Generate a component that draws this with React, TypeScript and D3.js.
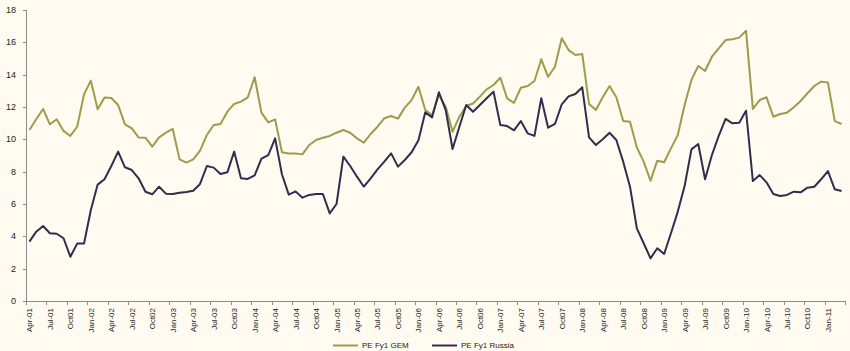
import React, { useEffect, useRef } from 'react';
import * as d3 from 'd3';

// monthly PE (forward 12m) from Apr-01 to Mar-11
const gemValues = [
  10.58, 11.24, 11.88, 10.93, 11.24, 10.52, 10.21, 10.78, 12.78, 13.63, 11.86, 12.58,
  12.56, 12.12, 10.93, 10.68, 10.12, 10.10, 9.55, 10.12, 10.41, 10.64, 8.76, 8.56,
  8.76, 9.30, 10.27, 10.89, 10.95, 11.71, 12.19, 12.33, 12.60, 13.84, 11.65, 11.05,
  11.24, 9.20, 9.13, 9.13, 9.07, 9.65, 9.96, 10.10, 10.21, 10.41, 10.58, 10.41,
  10.06, 9.79, 10.33, 10.78, 11.30, 11.44, 11.28, 11.96, 12.43, 13.25, 11.81, 11.50,
  12.74, 12.02, 10.47, 11.40, 12.06, 12.22, 12.64, 13.09, 13.36, 13.81, 12.53, 12.26,
  13.19, 13.30, 13.61, 14.95, 13.87, 14.49, 16.25, 15.52, 15.22, 15.28, 12.18, 11.81,
  12.60, 13.30, 12.60, 11.13, 11.09, 9.50, 8.62, 7.44, 8.68, 8.58, 9.44, 10.27,
  12.12, 13.67, 14.54, 14.23, 15.11, 15.63, 16.14, 16.19, 16.29, 16.72, 11.88, 12.43,
  12.60, 11.40, 11.57, 11.65, 11.98, 12.37, 12.85, 13.30, 13.57, 13.51, 11.13, 10.95,
];

const russiaValues = [
  3.67, 4.29, 4.64, 4.19, 4.16, 3.88, 2.74, 3.55, 3.55, 5.63, 7.20, 7.53,
  8.35, 9.24, 8.27, 8.10, 7.59, 6.76, 6.60, 7.07, 6.64, 6.62, 6.70, 6.74,
  6.82, 7.24, 8.35, 8.25, 7.86, 7.96, 9.24, 7.59, 7.55, 7.77, 8.80, 9.03,
  10.06, 7.84, 6.58, 6.78, 6.39, 6.56, 6.62, 6.62, 5.42, 6.00, 8.93, 8.35,
  7.69, 7.07, 7.59, 8.14, 8.62, 9.13, 8.31, 8.72, 9.20, 9.95, 11.67, 11.36,
  12.91, 11.81, 9.40, 10.78, 12.12, 11.71, 12.12, 12.54, 12.95, 10.89, 10.82, 10.56,
  11.13, 10.37, 10.21, 12.54, 10.72, 10.95, 12.16, 12.66, 12.80, 13.22, 10.12, 9.65,
  10.00, 10.41, 9.96, 8.62, 7.07, 4.49, 3.57, 2.64, 3.26, 2.91, 4.19, 5.53,
  7.11, 9.38, 9.71, 7.53, 9.03, 10.21, 11.26, 10.99, 11.03, 11.77, 7.42, 7.79,
  7.34, 6.62, 6.49, 6.56, 6.76, 6.72, 7.01, 7.07, 7.53, 8.04, 6.91, 6.80,
];

// quarterly tick labels, one every 3 months starting Apr-01
const tickLabels = [
  'Apr-01', 'Jul-01', 'Oct01', 'Jan-02', 'Apr-02', 'Jul-02', 'Oct02', 'Jan-03',
  'Apr-03', 'Jul-03', 'Oct03', 'Jan-04', 'Apr-04', 'Jul-04', 'Oct04', 'Jan-05',
  'Apr-05', 'Jul-05', 'Oct05', 'Jan-06', 'Apr-06', 'Jul-06', 'Oct06', 'Jan-07',
  'Apr-07', 'Jul-07', 'Oct07', 'Jan-08', 'Apr-08', 'Jul-08', 'Oct08', 'Jan-09',
  'Apr-09', 'Jul-09', 'Oct09', 'Jan-10', 'Apr-10', 'Jul-10', 'Oct10', 'Jan-11',
];

const seriesNames = ['PE Fy1 GEM', 'PE Fy1 Russia'];
const seriesColors = ['#9d9c4c', '#302e4c'];
const yTicks = [0, 2, 4, 6, 8, 10, 12, 14, 16, 18];

const App = () => {
  const ref = useRef<SVGSVGElement>(null);

  useEffect(() => {
    document.body.style.margin = '0';
    const W = 850, H = 351;
    const left = 26, right = 845, top = 10, bottom = 301;

    const svg = d3.select(ref.current);
    svg.selectAll('*').remove();

    svg.append('rect').attr('width', W).attr('height', H).attr('fill', '#fffbf1');

    const x = d3.scaleBand<number>()
      .domain(d3.range(gemValues.length))
      .range([left, right])
      .padding(0);
    const bw = x.bandwidth();
    const cx = (i: number) => (x(i) as number) + bw / 2;

    const y = d3.scaleLinear().domain([0, 18]).range([bottom, top]);

    const font = 'Arial, "Liberation Sans", sans-serif';
    const axisColor = '#8c8c8c';

    // y axis
    svg.append('line')
      .attr('x1', left).attr('x2', left).attr('y1', top).attr('y2', bottom)
      .attr('stroke', axisColor).attr('stroke-width', 1).attr('shape-rendering', 'crispEdges');
    const yg = svg.append('g');
    yg.selectAll('line').data(yTicks).join('line')
      .attr('x1', left - 3).attr('x2', left)
      .attr('y1', d => Math.round(y(d)) + 0.5).attr('y2', d => Math.round(y(d)) + 0.5)
      .attr('stroke', axisColor);
    yg.selectAll('text').data(yTicks).join('text')
      .attr('x', 16).attr('y', d => y(d)).attr('dy', '0.35em')
      .attr('text-anchor', 'end')
      .attr('font-family', font).attr('font-size', 9).attr('fill', '#222')
      .text(d => d);

    // x axis
    svg.append('line')
      .attr('x1', left).attr('x2', right).attr('y1', bottom + 0.5).attr('y2', bottom + 0.5)
      .attr('stroke', axisColor);
    const tickIdx = d3.range(0, gemValues.length + 1, 3);
    svg.append('g').selectAll('line').data(tickIdx).join('line')
      .attr('x1', d => Math.round(left + d * bw) + 0.5).attr('x2', d => Math.round(left + d * bw) + 0.5)
      .attr('y1', bottom).attr('y2', bottom + 4)
      .attr('stroke', axisColor);
    svg.append('g').selectAll('text').data(tickLabels).join('text')
      .attr('transform', (d, i) => `translate(${cx(i * 3) + 3},308) rotate(-90)`)
      .attr('text-anchor', 'end')
      .attr('font-family', font).attr('font-size', 8).attr('fill', '#222')
      .text(d => d);

    // lines
    const line = d3.line<number>()
      .x((d, i) => cx(i))
      .y(d => y(d));
    [gemValues, russiaValues].forEach((vals, k) => {
      svg.append('path')
        .datum(vals)
        .attr('d', line)
        .attr('fill', 'none')
        .attr('stroke', seriesColors[k])
        .attr('stroke-width', 2)
        .attr('stroke-linejoin', 'round');
    });

    // legend
    const legendX = [333, 432];
    const lg = svg.append('g');
    seriesNames.forEach((name, k) => {
      lg.append('line')
        .attr('x1', legendX[k]).attr('x2', legendX[k] + 25)
        .attr('y1', 345.5).attr('y2', 345.5)
        .attr('stroke', seriesColors[k]).attr('stroke-width', 2);
      lg.append('text')
        .attr('x', legendX[k] + 29).attr('y', 345.5).attr('dy', '0.35em')
        .attr('font-family', font).attr('font-size', 8).attr('fill', '#222')
        .text(name);
    });
  }, []);

  return <svg ref={ref} width={850} height={351} style={{ display: 'block' }} />;
};

export default App;
